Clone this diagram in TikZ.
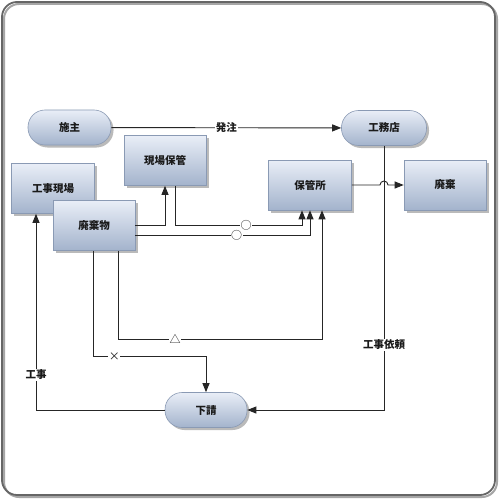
\documentclass[tikz,border=0pt]{standalone}
\usepackage{fontspec}
\setmainfont{Noto Sans CJK JP}
\usetikzlibrary{arrows.meta,shadows,calc}
\definecolor{boxtop}{HTML}{E9EEF7}
\definecolor{boxbot}{HTML}{A3B3CC}
\definecolor{boxline}{HTML}{8A9AB4}
\definecolor{frameline}{HTML}{666666}
\definecolor{txt}{HTML}{1A1A1A}
\tikzset{
  boxbase/.style={draw=boxline, line width=0.6pt, top color=boxtop, bottom color=boxbot,
    drop shadow={shadow xshift=2.5pt, shadow yshift=-2.5pt, fill=black!45, opacity=0.6},
    font=\bfseries\fontsize{10.5}{12}\selectfont, text=txt, inner sep=0pt},
  procbox/.style={boxbase, rectangle, minimum width=82pt, minimum height=50pt},
  termbox/.style={boxbase, rectangle, rounded corners=17pt, minimum width=83pt, minimum height=35pt},
  conn/.style={draw=black!85, line width=0.9pt},
  arr/.style={conn, -{Triangle[length=9pt,width=7pt]}},
  lbl/.style={fill=white, inner sep=1pt, font=\bfseries\fontsize{10.5}{12}\selectfont, text=txt},
  sym/.style={fill=white, inner sep=0.5pt, font=\fontsize{11}{12}\selectfont, text=txt}
}
\begin{document}
\begin{tikzpicture}[x=1pt,y=-1pt]
\useasboundingbox (0,0) rectangle (500,500);
\fill[white] (0,0) rectangle (500,500);
\draw[black!35, line width=2pt, rounded corners=15pt] (4,4) rectangle (497,497);
\draw[frameline, line width=1.8pt, rounded corners=15pt] (2,2) rectangle (495,495);

% nodes
\node[termbox] (shi) at (69.5,127.5) {施主};
\node[termbox, minimum width=85pt] (koumu) at (384,128) {工務店};
\node[procbox] (hokan1) at (165,160.5) {現場保管};
\node[procbox, minimum width=83pt] (genba) at (53,188.5) {工事現場};
\node[procbox] (haikibutsu) at (94,225.5) {廃棄物};
\node[procbox, minimum width=83pt] (hokansho) at (310,185) {保管所};
\node[procbox] (haiki) at (445,185) {廃棄};
\node[termbox, minimum width=82pt] (shitauke) at (206,410) {下請};

% connectors
\draw[arr] (shi) -- node[lbl, pos=0.5] {発注} (koumu);
\draw[arr] (koumu.south) |- node[lbl, pos=0.377] {工事依頼} (shitauke.east);
\draw[arr] (shitauke.west) -| node[lbl, pos=0.59] {工事} ([xshift=-17pt]genba.south);
\draw[arr] (haikibutsu.east) -| (hokan1.south);
\draw[arr] ([xshift=10pt]hokan1.south) |- node[sym, pos=0.78] {○} ([xshift=-8pt]hokansho.south |- haikibutsu.east) -- ([xshift=-8pt]hokansho.south);
\draw[arr] ([yshift=-10pt]haikibutsu.east) -| node[sym, pos=0.29] {○} (hokansho.south);
\draw[arr] ([xshift=24pt]haikibutsu.south) |- node[sym, pos=0.64] {△} ([xshift=12pt]hokansho.south |- 0,339) -- ([xshift=12pt]hokansho.south);
\draw[arr] ([xshift=-1pt]haikibutsu.south) -- ++(0,105.5) -| node[sym, pos=0.095] {×} (shitauke.north);
\draw[arr] (hokansho.east) -- ([xshift=-4pt]koumu.south |- hokansho.east) arc[start angle=180, end angle=360, radius=4] -- (haiki.west);
\end{tikzpicture}
\end{document}
